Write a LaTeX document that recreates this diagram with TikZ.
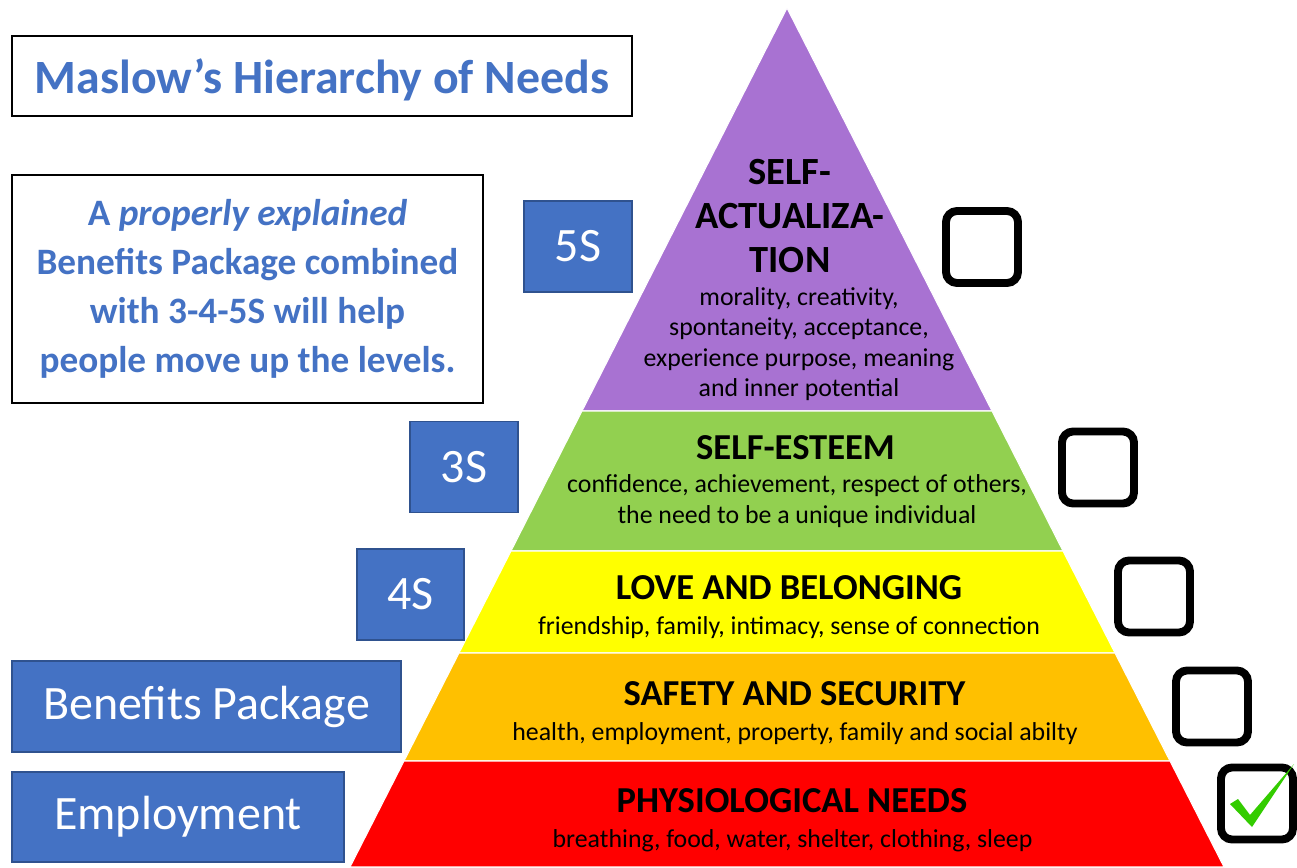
\documentclass[tikz,border=0pt]{standalone}
\usepackage{fontspec}
\setmainfont{Carlito}
\definecolor{lvl_purple}{RGB}{168, 114, 210}
\definecolor{lvl_green}{RGB}{146, 208, 80}
\definecolor{lvl_yellow}{RGB}{255, 255, 0}
\definecolor{lvl_orange}{RGB}{255, 192, 0}
\definecolor{lvl_red}{RGB}{255, 0, 0}
\definecolor{s_blue}{RGB}{68, 114, 196}
\definecolor{s_edge}{RGB}{47, 82, 143}
\definecolor{tick_green}{RGB}{51, 204, 0}
\tikzstyle{ttl}=[rectangle,draw=black,line width=1.1pt,text=s_blue,text depth=0pt,
  minimum width=12.4cm,minimum height=1.6cm,font=\fontsize{27.2}{32}\selectfont\bfseries]
\tikzstyle{note}=[rectangle,draw=black,line width=1.1pt,text=s_blue,align=center,
  minimum width=9.42cm,minimum height=4.56cm,font=\fontsize{21.2}{27.8}\selectfont\bfseries]
\tikzstyle{sq}=[rectangle,fill=s_blue,draw=s_edge,line width=1pt,text=white,
  minimum height=1.82cm,font=\fontsize{27.3}{32}\selectfont]
\tikzstyle{hd}=[inner sep=0pt,align=center,font=\fontsize{20.8}{24}\selectfont\bfseries]
\tikzstyle{top}=[inner sep=0pt,align=center,font=\fontsize{21.9}{25}\selectfont\bfseries]
\tikzstyle{ds}=[inner sep=0pt,align=center,font=\fontsize{14.7}{17.4}\selectfont]
\tikzstyle{chk}=[rectangle,draw=black,line width=4.5pt,rounded corners=0.22cm,
  minimum width=1.44cm,minimum height=1.44cm]
\tikzstyle{none}=[]

\begin{document}
\begin{tikzpicture}
            \useasboundingbox (0, 0) rectangle (25.94, -17.34);
            \fill [white] (0, 0) rectangle (25.94, -17.34);
            % pyramid levels
            \filldraw [fill=lvl_purple, draw=white, line width=0.6pt] (15.74, -0.16) -- (19.84, -8.22) -- (11.64, -8.22) -- cycle;
            \filldraw [fill=lvl_green, draw=white, line width=0.6pt] (11.64, -8.22) -- (19.84, -8.22) -- (21.26, -11.02) -- (10.22, -11.02) -- cycle;
            \filldraw [fill=lvl_yellow, draw=white, line width=0.6pt] (10.22, -11.02) -- (21.26, -11.02) -- (22.30, -13.06) -- (9.18, -13.06) -- cycle;
            \filldraw [fill=lvl_orange, draw=white, line width=0.6pt] (9.18, -13.06) -- (22.30, -13.06) -- (23.40, -15.22) -- (8.08, -15.22) -- cycle;
            \filldraw [fill=lvl_red, draw=white, line width=0.6pt] (8.08, -15.22) -- (23.40, -15.22) -- (24.48, -17.34) -- (7.00, -17.34) -- cycle;
            \node [style=top] (0) at (15.80, -4.32) {SELF-\\ACTUALIZA-\\TION};
            \node [style=ds] (1) at (15.98, -6.88) {morality, creativity,\\spontaneity, acceptance,\\experience purpose, meaning\\and inner potential};
            \node [style=hd] (2) at (15.91, -8.96) {SELF-ESTEEM};
            \node [style=ds] (3) at (15.94, -10.02) {confidence, achievement, respect of others,\\the need to be a unique individual};
            \node [style=hd] (4) at (15.78, -11.76) {LOVE AND BELONGING};
            \node [style=ds] (5) at (15.78, -12.56) {friendship, family, intimacy, sense of connection};
            \node [style=hd] (6) at (15.89, -13.88) {SAFETY AND SECURITY};
            \node [style=ds] (7) at (15.90, -14.68) {health, employment, property, family and social abilty};
            \node [style=hd] (8) at (15.84, -16.02) {PHYSIOLOGICAL NEEDS};
            \node [style=ds] (9) at (15.85, -16.82) {breathing, food, water, shelter, clothing, sleep};
            % left side
            \node [style=ttl] (10) at (6.44, -1.52) {Maslow’s Hierarchy of Needs};
            \node [style=note] (11) at (4.95, -5.78) {A \textit{properly explained}\\Benefits Package combined\\with 3-4-5S will help\\people move up the levels.};
            \node [style=sq, minimum width=2.16cm] (12) at (11.56, -4.93) {5S};
            \node [style=sq, minimum width=2.16cm] (13) at (9.28, -9.34) {3S};
            \node [style=sq, minimum width=2.14cm] (14) at (8.21, -11.89) {4S};
            \node [style=sq, minimum width=7.78cm] (15) at (4.13, -14.13) {Benefits Package};
            \node [style=sq, minimum width=6.64cm, minimum height=1.80cm] (16) at (3.56, -16.34) {Employment};
            % check boxes
            \node [style=chk] (17) at (19.64, -4.94) {};
            \node [style=chk] (18) at (21.96, -9.35) {};
            \node [style=chk] (19) at (23.08, -11.93) {};
            \node [style=chk] (20) at (24.24, -14.13) {};
            \node [style=chk] (21) at (25.14, -16.07) {};
            \fill [tick_green] (24.60, -16.08) -- (24.76, -15.98) -- (25.00, -16.30) -- (25.88, -15.28) -- (25.04, -16.54) -- cycle;
    \end{tikzpicture}
\end{document}
